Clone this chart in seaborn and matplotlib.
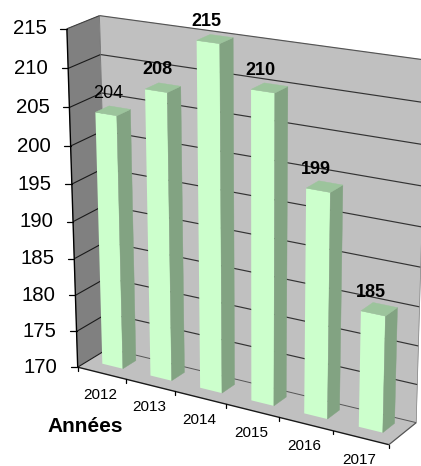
import numpy as np
import pandas as pd
import matplotlib
matplotlib.use("Agg")
import matplotlib.pyplot as plt
from matplotlib.patches import Polygon
from matplotlib.transforms import Transform, Affine2D
import seaborn as sns

years = ["2012", "2013", "2014", "2015", "2016", "2017"]
values = [204, 208, 215, 210, 199, 185]
bold_labels = [False, True, True, True, True, True]
y_ticks = [170, 175, 180, 185, 190, 195, 200, 205, 210, 215]
label_dx = [2, 1, -2, -2, -2, -2]

W, H = 421, 466
FRONT_C, SIDE_C, TOP_C = "#CCFFCC", "#82A382", "#9CC49C"
WALL_C, SIDE_WALL_C, FLOOR_C = "#C0C0C0", "#808080", "#C0C0C0"
BAR_W, D0, D1 = 0.43, 0.36, 0.79
FONT = "Liberation Sans"

# Fit of the oblique view: (category, depth, value) -> image pixel
anchors = [
    (0, 0, 215, 65, 28.5), (0, 0, 210, 66.7, 68), (0, 0, 205, 68.4, 107.5), (0, 0, 200, 70, 146),
    (0, 0, 195, 71.7, 184), (0, 0, 190, 73.4, 221.5), (0, 0, 185, 75, 258.5), (0, 0, 180, 76.7, 294.5),
    (0, 0, 175, 78.4, 330.5), (0, 0, 170, 80, 366.5),
    (0, 1, 215, 101, 16), (0, 1, 210, 102, 55), (0, 1, 205, 103, 93), (0, 1, 170, 102.5, 350),
    (6, 1, 215, 426, 60.5), (6, 1, 210, 425, 103.5), (6, 1, 205, 424, 145), (6, 1, 200, 423, 185.5),
    (6, 1, 195, 422, 227), (6, 1, 190, 421, 267), (6, 1, 185, 420, 306), (6, 1, 180, 419, 346),
    (6, 1, 175, 418, 384), (6, 1, 170, 417, 421),
    (1, 0, 170, 126, 379), (2, 0, 170, 175, 392), (3, 0, 170, 226, 405),
    (4, 0, 170, 278, 418), (5, 0, 170, 332, 432), (6, 0, 170, 388, 445),
]
A, b = [], []
for xw, dw, zw, px, py in anchors:
    w = [xw, dw, zw, 1]
    A.append(w + [0, 0, 0, 0] + [-px * v for v in w[:3]])
    A.append([0, 0, 0, 0] + w + [-py * v for v in w[:3]])
    b += [px, py]
sol = np.linalg.lstsq(np.array(A, float), np.array(b, float), rcond=None)[0]
P = np.append(sol, 1).reshape(3, 4)


def project(x, d, z):
    q = P @ np.array([x, d, z, 1.0])
    return q[0] / q[2], q[1] / q[2]


class FrontPlane(Transform):
    """category index / value -> display, on the bars' front plane"""
    input_dims = output_dims = 2
    has_inverse = False

    def transform_non_affine(self, pts):
        pts = np.asarray(pts, float)
        out = [project(px + 0.5, D0, pz) for px, pz in pts]
        out = np.array(out).reshape(-1, 2)
        out[:, 1] = H - out[:, 1]
        return out


sns.set_theme(style="white")
plt.rcParams["font.family"] = [FONT, "DejaVu Sans"]

fig = plt.figure(figsize=(W / 100, H / 100), dpi=100)
fig.patch.set_facecolor("white")
ax = fig.add_axes([0, 0, 1, 1])
df = pd.DataFrame({"year": years, "value": values})
sns.barplot(data=df, x="year", y="value", color=FRONT_C, saturation=1, width=BAR_W, ax=ax, zorder=4)
ax.set_xlabel("")
ax.set_ylabel("")
ax.set_axis_off()

pix = Affine2D().scale(1, -1).translate(0, H)
front = FrontPlane()
for patch, v in zip(ax.patches, values):
    patch.set_y(170)
    patch.set_height(v - 170)
    patch.set_linewidth(0)
    patch.set_transform(front)
    patch.set_clip_on(False)


def face(pts, color, z):
    ax.add_patch(Polygon([project(*p) for p in pts], closed=True, facecolor=color, edgecolor=color,
                         linewidth=0.3, transform=pix, zorder=z, clip_on=False))


def seg(p, q, color="black", lw=0.9, z=3):
    a, b_ = project(*p), project(*q)
    ax.plot([a[0], b_[0]], [a[1], b_[1]], color=color, lw=lw, transform=pix, zorder=z, clip_on=False,
            solid_capstyle="butt")


zmin, zmax = y_ticks[0], y_ticks[-1]
face([(0, 0, zmin), (0, 0, zmax), (0, 1, zmax), (0, 1, zmin)], SIDE_WALL_C, 1)
face([(0, 1, zmin), (0, 1, zmax), (6, 1, zmax), (6, 1, zmin)], WALL_C, 1)
face([(0, 0, zmin), (0, 1, zmin), (6, 1, zmin), (6, 0, zmin)], FLOOR_C, 1)

for t in y_ticks:
    top = t == zmax
    seg((0, 0, t), (0, 1, t), "#404040" if top else "#1a1a1a", 0.8)
    if t != zmin:
        seg((0, 1, t), (6, 1, t), "#555555" if top else "#333333", 0.85)
    else:
        seg((0, 1, t), (6, 1, t), "#555555", 0.7)
    px, py = project(0, 0, t)
    ax.plot([px - 6.5, px], [py, py], color="black", lw=0.9, transform=pix, zorder=3, clip_on=False)
    ax.text(px - 20, py, str(t), transform=pix, ha="right", va="center", fontsize=14.7,
            color="black", family=FONT, zorder=6)

seg((0, 0, zmin), (0, 0, zmax), "black", 1.0)
seg((0, 0, zmin), (6, 0, zmin), "#1a1a1a", 1.0)
seg((6, 0, zmin), (6, 1, zmin), "#555555", 0.9)
seg((0, 1, zmin), (0, 1, zmax), "#666666", 0.5)
seg((6, 1, zmin), (6, 1, zmax), "#808080", 0.5)

for i in range(7):
    px, py = project(i, 0, zmin)
    ax.plot([px, px], [py, py + 3.5], color="black", lw=0.9, transform=pix, zorder=3, clip_on=False)

for i, yr in enumerate(years):
    px, py = project(i + 0.5, 0, zmin)
    ax.text(px - 1, py + 22, yr, transform=pix, ha="center", va="center", fontsize=11,
            color="black", family=FONT, zorder=6)

ax.text(85.5, 426, "Années", transform=pix, ha="center", va="center", fontsize=15, fontweight="bold",
        color="black", family=FONT, zorder=6)

hw = BAR_W / 2
for i, v in enumerate(values):
    c = i + 0.5
    face([(c + hw, D0, 170), (c + hw, D1, 170), (c + hw, D1, v), (c + hw, D0, v)], SIDE_C, 4)
    face([(c - hw, D0, v), (c + hw, D0, v), (c + hw, D1, v), (c - hw, D1, v)], TOP_C, 4)
    px, py = project(c, D0, v)
    ax.text(px + label_dx[i], py - 21, str(v), transform=pix, ha="center", va="center", fontsize=13,
            fontweight="bold" if bold_labels[i] else "normal", color="black", family=FONT, zorder=7)

fig.savefig("out.png", dpi=100)
